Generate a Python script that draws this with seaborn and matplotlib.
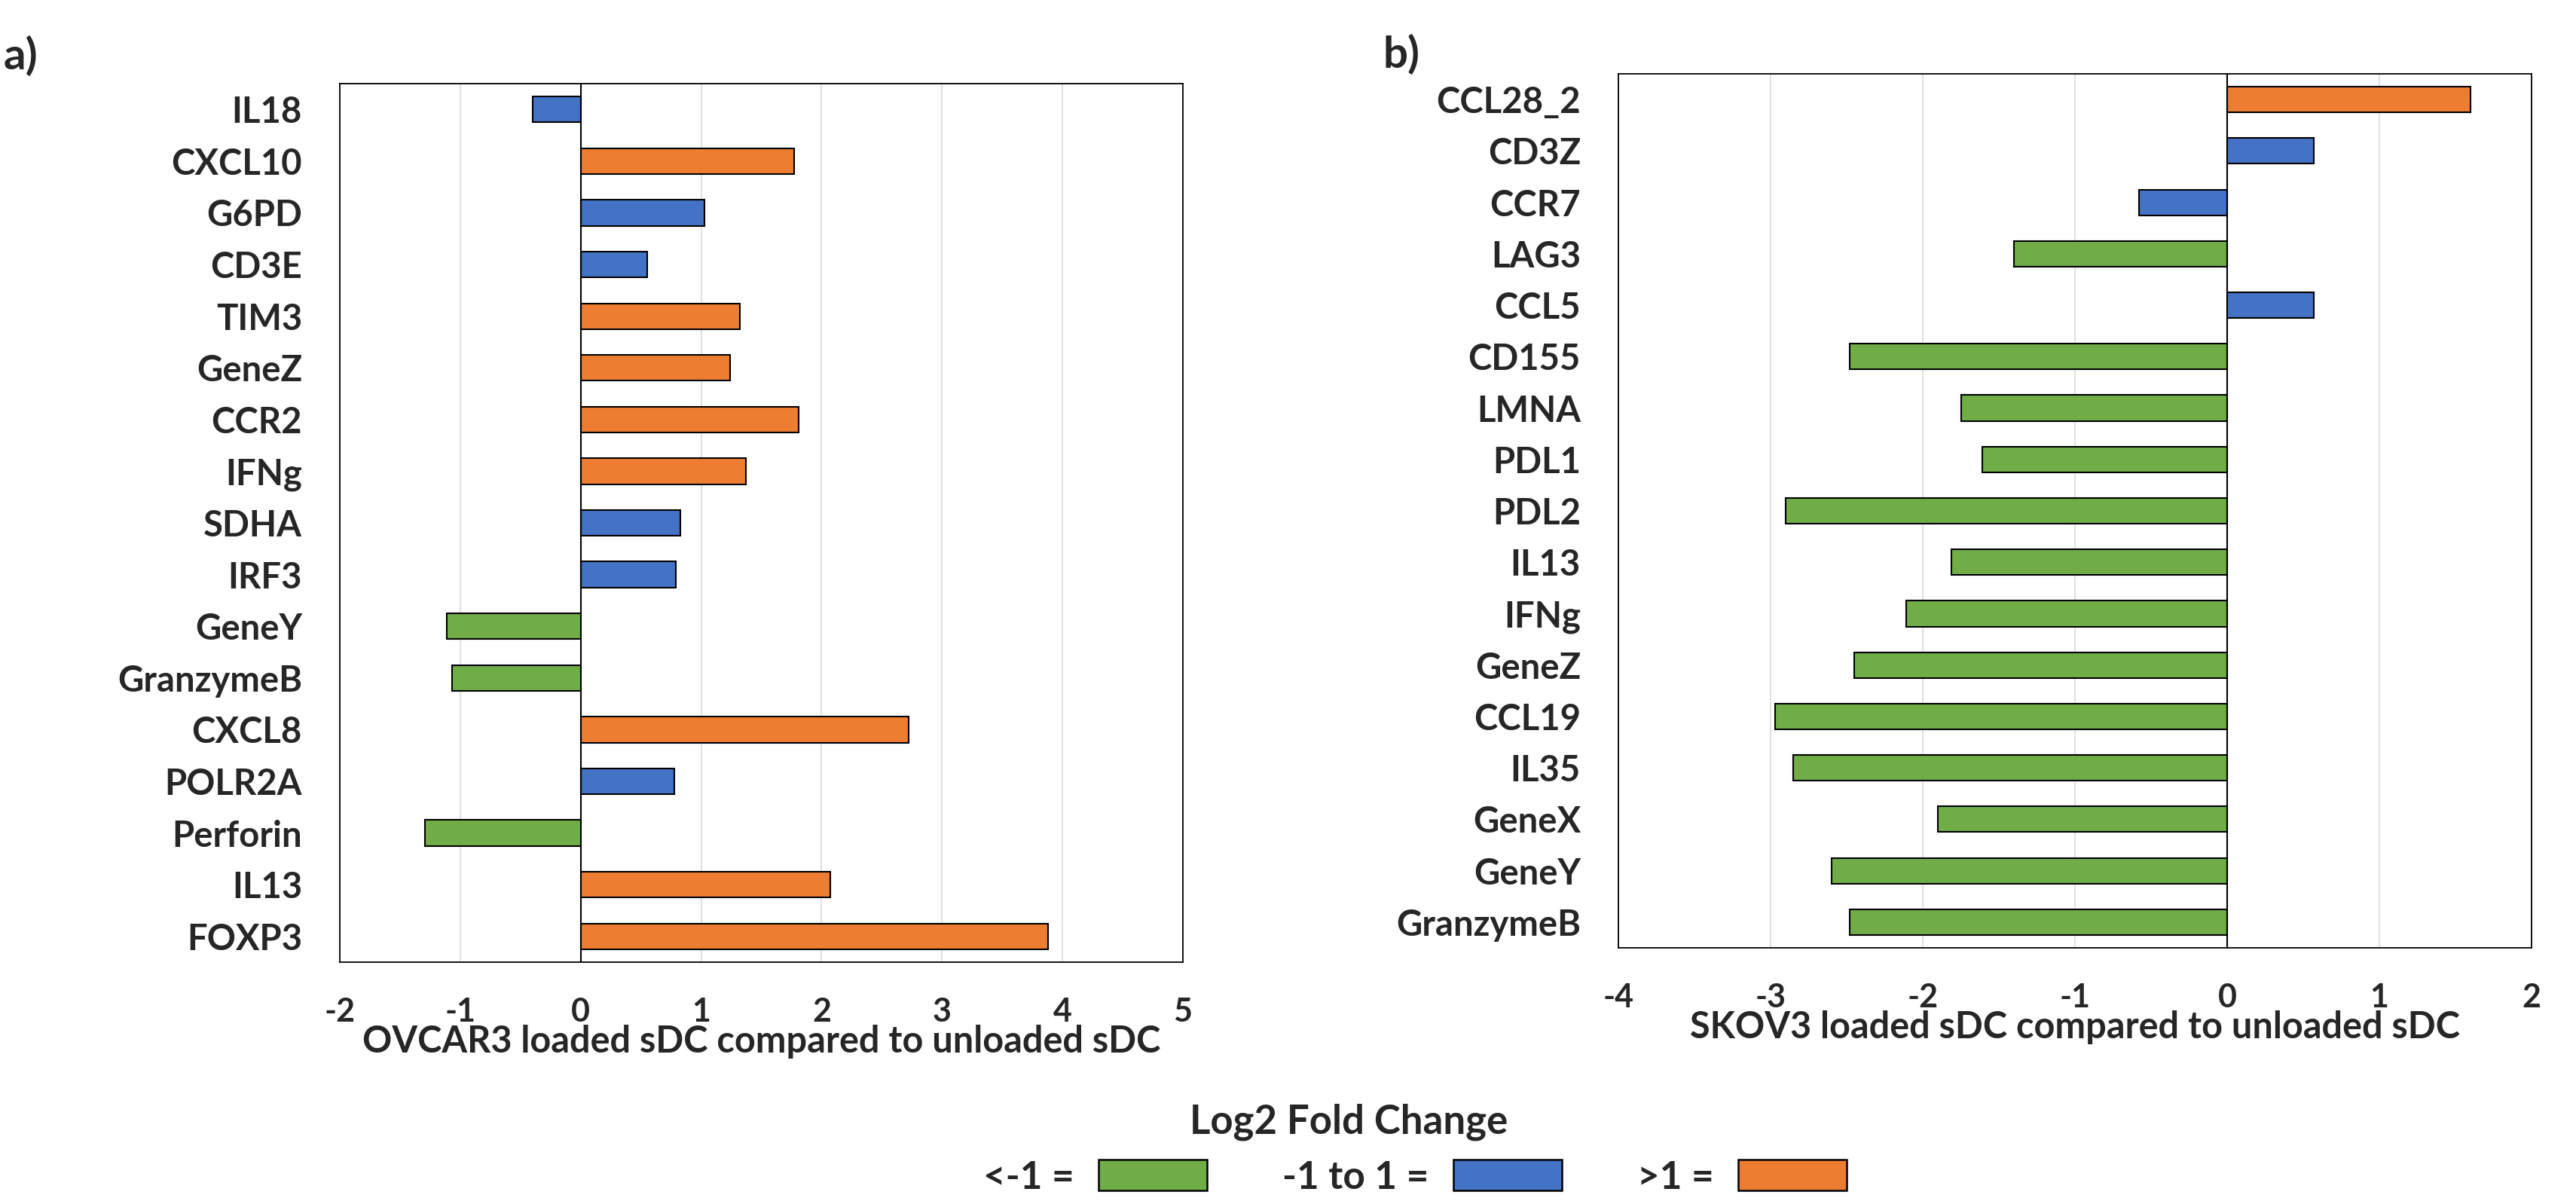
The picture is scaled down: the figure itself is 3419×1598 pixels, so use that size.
import matplotlib
matplotlib.use("Agg")
import matplotlib.pyplot as plt
from matplotlib.patches import Patch
import seaborn as sns
import pandas as pd

# ---- data ----
ovcar_genes = ["IL18", "CXCL10", "G6PD", "CD3E", "TIM3", "GeneZ", "CCR2", "IFNg", "SDHA",
               "IRF3", "GeneY", "GranzymeB", "CXCL8", "POLR2A", "Perforin", "IL13", "FOXP3"]
ovcar_lfc = [-0.40, 1.77, 1.03, 0.55, 1.32, 1.24, 1.81, 1.37, 0.83,
             0.79, -1.11, -1.07, 2.72, 0.78, -1.29, 2.07, 3.88]
ovcar_cls = ["mid", "up", "mid", "mid", "up", "up", "up", "up", "mid",
             "mid", "down", "down", "up", "mid", "down", "up", "up"]

skov_genes = ["CCL28_2", "CD3Z", "CCR7", "LAG3", "CCL5", "CD155", "LMNA", "PDL1", "PDL2",
              "IL13", "IFNg", "GeneZ", "CCL19", "IL35", "GeneX", "GeneY", "GranzymeB"]
skov_lfc = [1.60, 0.57, -0.58, -1.40, 0.57, -2.48, -1.75, -1.61, -2.90,
            -1.81, -2.11, -2.45, -2.97, -2.85, -1.90, -2.60, -2.48]
skov_cls = ["up", "mid", "mid", "down", "mid", "down", "down", "down", "down",
            "down", "down", "down", "down", "down", "down", "down", "down"]

cls_order = ["down", "mid", "up"]
cls_labels = ["<-1 =", "-1 to 1 =", ">1 ="]
palette = {"down": "#70AD47", "mid": "#4472C4", "up": "#ED7D31"}

ovcar_ticks = [-2, -1, 0, 1, 2, 3, 4, 5]
skov_ticks = [-4, -3, -2, -1, 0, 1, 2]

# ---- style ----
sns.set_style("white")
plt.rcParams["font.family"] = ["Lato", "DejaVu Sans"]
plt.rcParams["font.weight"] = "bold"

W, H = 3419, 1598
fig = plt.figure(figsize=(W / 100, H / 100), dpi=100)


def px_axes(x0, y0, x1, y1):
    return fig.add_axes([x0 / W, 1 - y1 / H, (x1 - x0) / W, (y1 - y0) / H])


ax1 = px_axes(451, 111, 1570, 1277)
ax2 = px_axes(2148, 98, 3360, 1258)

panels = [
    (ax1, ovcar_genes, ovcar_lfc, ovcar_cls, ovcar_ticks,
     "OVCAR3 loaded sDC compared to unloaded sDC"),
    (ax2, skov_genes, skov_lfc, skov_cls, skov_ticks,
     "SKOV3 loaded sDC compared to unloaded sDC"),
]

for ax, genes, lfc, cls, ticks, xlabel in panels:
    df = pd.DataFrame({"gene": genes, "lfc": lfc, "cls": cls})
    sns.barplot(data=df, x="lfc", y="gene", hue="cls", order=genes,
                hue_order=cls_order, palette=palette, dodge=False,
                saturation=1, width=0.5, orient="h", edgecolor="black",
                linewidth=1.5, legend=False, ax=ax)
    ax.set_xlim(ticks[0], ticks[-1])
    ax.set_xticks(ticks)
    ax.set_xticklabels([str(t) for t in ticks])
    ax.set_ylim(len(genes) - 0.5, -0.5)
    ax.grid(axis="x", color="#D9D9D9", linewidth=1.1)
    ax.grid(axis="y", visible=False)
    ax.set_axisbelow(True)
    ax.axvline(0, color="black", linewidth=1.5, zorder=3)
    for sp in ax.spines.values():
        sp.set_visible(True)
        sp.set_color("black")
        sp.set_linewidth(1.3)
    ax.tick_params(axis="x", length=0, pad=33, labelsize=31)
    ax.tick_params(axis="y", length=0, pad=36, labelsize=34)
    for lab in ax.get_xticklabels() + ax.get_yticklabels():
        lab.set_fontweight("bold")
    ax.set_xlabel(xlabel, fontsize=35, fontweight="bold", labelpad=-2)
    ax.set_ylabel("")

# panel letters
fig.text(5 / W, 1 - 92 / H, "a)", fontsize=42, fontweight="bold",
         ha="left", va="baseline")
fig.text(1835 / W, 1 - 90 / H, "b)", fontsize=42, fontweight="bold",
         ha="left", va="baseline")

# legend
fig.text(1790 / W, 1 - 1505 / H, "Log2 Fold Change", fontsize=38,
         fontweight="bold", ha="center", va="baseline")
handles = [Patch(facecolor=palette[c], edgecolor="black", linewidth=1.8)
           for c in cls_order]
leg = fig.legend(handles, cls_labels, loc="center",
                 bbox_to_anchor=(1878 / W, 1 - 1563 / H), ncol=3,
                 markerfirst=False, frameon=False, fontsize=37,
                 handlelength=2.8, handleheight=0.84, handletextpad=0.62,
                 columnspacing=1.96, borderpad=0, borderaxespad=0)
for t in leg.get_texts():
    t.set_fontweight("bold")

fig.savefig("out.png", dpi=100)
